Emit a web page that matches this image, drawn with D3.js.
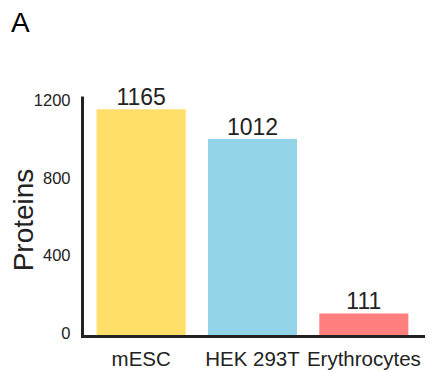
<!DOCTYPE html>
<html>
<head>
<meta charset="utf-8">
<script src="https://cdn.jsdelivr.net/npm/d3@7"></script>
<style>
  html, body { margin: 0; padding: 0; background: #fff; }
  svg { display: block; font-family: "Liberation Sans", Arial, sans-serif; }
</style>
</head>
<body>
<svg id="chart" width="437" height="370"></svg>
<script>
// Proteins identified per cell type
const categories = ["mESC", "HEK 293T", "Erythrocytes"];
const proteins = [1165, 1012, 111];
const barColors = ["#FFDE6A", "#94D4E8", "#FF7F7F"];
const yTicks = [0, 400, 800, 1200];

const svg = d3.select("#chart");
const ink = "#222";

const x = d3.scaleBand()
  .domain(categories)
  .range([85.5, 419.5])
  .paddingInner(0.2)
  .paddingOuter(0.1);

const y = d3.scaleLinear()
  .domain([0, 1200])
  .range([335, 102.5]);

// bars
svg.append("g")
  .selectAll("rect")
  .data(categories)
  .join("rect")
  .attr("x", d => x(d))
  .attr("width", x.bandwidth())
  .attr("y", (d, i) => y(proteins[i]))
  .attr("height", (d, i) => y(0) - y(proteins[i]))
  .attr("fill", (d, i) => barColors[i]);

// value labels above bars
svg.append("g")
  .selectAll("text")
  .data(categories)
  .join("text")
  .attr("x", d => x(d) + x.bandwidth() / 2)
  .attr("y", (d, i) => y(proteins[i]) - 4)
  .attr("text-anchor", "middle")
  .attr("font-size", 23)
  .attr("fill", ink)
  .text((d, i) => proteins[i]);

// y axis
const yAxis = svg.append("g")
  .attr("transform", "translate(82.5,0)")
  .call(d3.axisLeft(y).tickValues(yTicks).tickFormat(d3.format("d")).tickSize(0).tickPadding(12));
yAxis.select(".domain").remove();
yAxis.selectAll("text")
  .attr("font-size", 16.5)
  .attr("font-family", "Liberation Sans, Arial, sans-serif")
  .attr("fill", ink)
  .attr("dy", "0.2em");
yAxis.append("line")
  .attr("x1", 0).attr("x2", 0)
  .attr("y1", 96.5).attr("y2", 338)
  .attr("stroke", ink)
  .attr("stroke-width", 3);

// x axis
const xAxis = svg.append("g")
  .attr("transform", "translate(0,336.5)")
  .call(d3.axisBottom(x).tickSize(0).tickPadding(14.5));
xAxis.select(".domain").remove();
xAxis.selectAll("text")
  .attr("font-size", 20.5)
  .attr("font-family", "Liberation Sans, Arial, sans-serif")
  .attr("fill", ink)
  .attr("dy", "0.71em");
xAxis.append("line")
  .attr("x1", 81).attr("x2", 425)
  .attr("y1", 0).attr("y2", 0)
  .attr("stroke", ink)
  .attr("stroke-width", 3);

// axis title
svg.append("text")
  .attr("transform", "translate(33,220) rotate(-90)")
  .attr("text-anchor", "middle")
  .attr("font-size", 28)
  .attr("fill", ink)
  .text("Proteins");

// panel letter
svg.append("text")
  .attr("x", 11)
  .attr("y", 32)
  .attr("font-size", 28)
  .attr("fill", "#000")
  .text("A");
</script>
</body>
</html>
